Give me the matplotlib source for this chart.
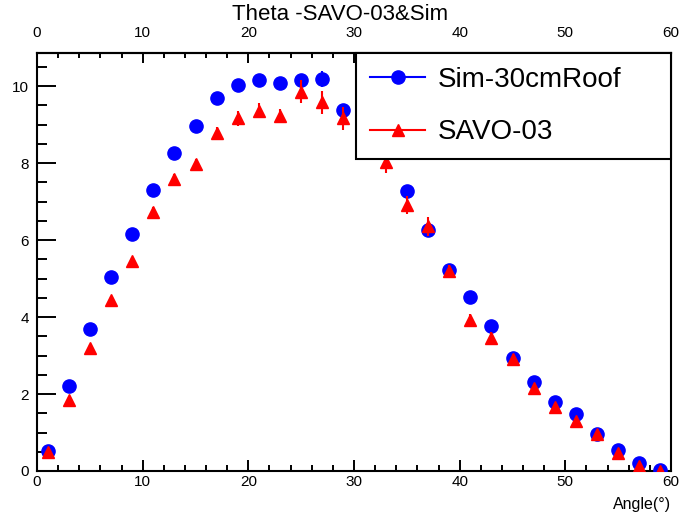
import matplotlib
matplotlib.use("Agg")
import matplotlib.pyplot as plt
from matplotlib.lines import Line2D
from matplotlib.ticker import MultipleLocator, FixedLocator

plt.rcParams["font.family"] = ["Liberation Sans", "DejaVu Sans"]

ANGLES = [1, 3, 5, 7, 9, 11, 13, 15, 17, 19, 21, 23, 25, 27, 29,
          31, 33, 35, 37, 39, 41, 43, 45, 47, 49, 51, 53, 55, 57, 59]

SIM = [0.52, 2.21, 3.68, 5.03, 6.16, 7.30, 8.27, 8.96, 9.70, 10.04,
       10.16, 10.09, 10.17, 10.18, 9.39, 8.90, 8.40, 7.27, 6.26, 5.22,
       4.51, 3.77, 2.93, 2.32, 1.80, 1.48, 0.95, 0.55, 0.20, 0.02]
SIM_ERR = [0.03, 0.06, 0.08, 0.09, 0.10, 0.10, 0.11, 0.11, 0.12, 0.12,
           0.12, 0.12, 0.15, 0.20, 0.12, 0.12, 0.11, 0.10, 0.10, 0.09,
           0.08, 0.07, 0.06, 0.05, 0.05, 0.04, 0.04, 0.03, 0.02, 0.01]

SAVO = [0.50, 1.84, 3.19, 4.44, 5.45, 6.74, 7.58, 7.97, 8.79, 9.16,
        9.36, 9.22, 9.85, 9.58, 9.16, 8.60, 8.02, 6.91, 6.36, 5.19,
        3.93, 3.46, 2.92, 2.15, 1.67, 1.31, 0.96, 0.48, 0.12, 0.01]
SAVO_ERR = [0.04, 0.08, 0.10, 0.11, 0.12, 0.13, 0.14, 0.14, 0.15, 0.19,
            0.19, 0.19, 0.30, 0.30, 0.30, 0.30, 0.28, 0.24, 0.25, 0.17,
            0.15, 0.14, 0.12, 0.11, 0.10, 0.09, 0.08, 0.06, 0.04, 0.02]

LABELS = ["Sim-30cmRoof", "SAVO-03"]

fig = plt.figure(figsize=(6.81, 5.17), dpi=100)
ax = fig.add_axes([37 / 681, 1 - 471 / 517, 634 / 681, 418 / 517])

ax.errorbar(ANGLES, SIM, yerr=SIM_ERR, fmt="o", color="blue", ms=9.5,
            elinewidth=1.5, capsize=0, zorder=3)
ax.errorbar(ANGLES, SAVO, yerr=SAVO_ERR, fmt="^", color="red", ms=9,
            elinewidth=1.5, capsize=0, zorder=4)

ax.set_xlim(0, 60)
ax.set_ylim(0, 10.86)

for s in ax.spines.values():
    s.set_linewidth(1.5)

ax.xaxis.set_major_locator(MultipleLocator(10))
ax.xaxis.set_minor_locator(MultipleLocator(2))
ax.yaxis.set_major_locator(MultipleLocator(2))
ax.yaxis.set_minor_locator(MultipleLocator(0.5))

ax.tick_params(axis="x", which="major", direction="in", length=8, width=1.4,
               labelsize=11, pad=3, top=False)
ax.tick_params(axis="x", which="minor", direction="in", length=4.3, width=1.4,
               top=False)
ax.tick_params(axis="y", which="major", direction="in", length=13.5, width=1.4,
               labelsize=11, pad=6, right=False)
ax.tick_params(axis="y", which="minor", direction="in", length=7, width=1.4,
               right=False)

top = ax.secondary_xaxis("top")
top.xaxis.set_major_locator(FixedLocator(list(range(0, 61, 10))))
top.xaxis.set_minor_locator(FixedLocator(list(range(0, 61, 2))))
top.tick_params(which="major", direction="in", length=7, width=1.4,
                labelsize=11, pad=9)
top.tick_params(which="minor", direction="in", length=3.6, width=1.4)
top.spines["top"].set_linewidth(1.5)

ax.set_xlabel("Angle(°)", loc="right", fontsize=11.5, labelpad=6)
fig.text(0.5, 1 - 15 / 517, "Theta -SAVO-03&Sim", ha="center", va="center",
         fontsize=16)

handles = [
    Line2D([], [], color="blue", marker="o", ms=9.5, lw=1.5),
    Line2D([], [], color="red", marker="^", ms=9, lw=1.5),
]
leg = ax.legend(handles, LABELS, loc="upper left", mode="expand",
                bbox_to_anchor=(0.503, 0.751, 0.497, 0.249),
                borderaxespad=0, fontsize=20, frameon=True, fancybox=False,
                framealpha=1, edgecolor="black", borderpad=0.5,
                labelspacing=0.95, handlelength=2.0, handletextpad=0.45)
leg.get_frame().set_linewidth(1.5)
leg.set_zorder(10)

fig.savefig("out.png", dpi=100)
